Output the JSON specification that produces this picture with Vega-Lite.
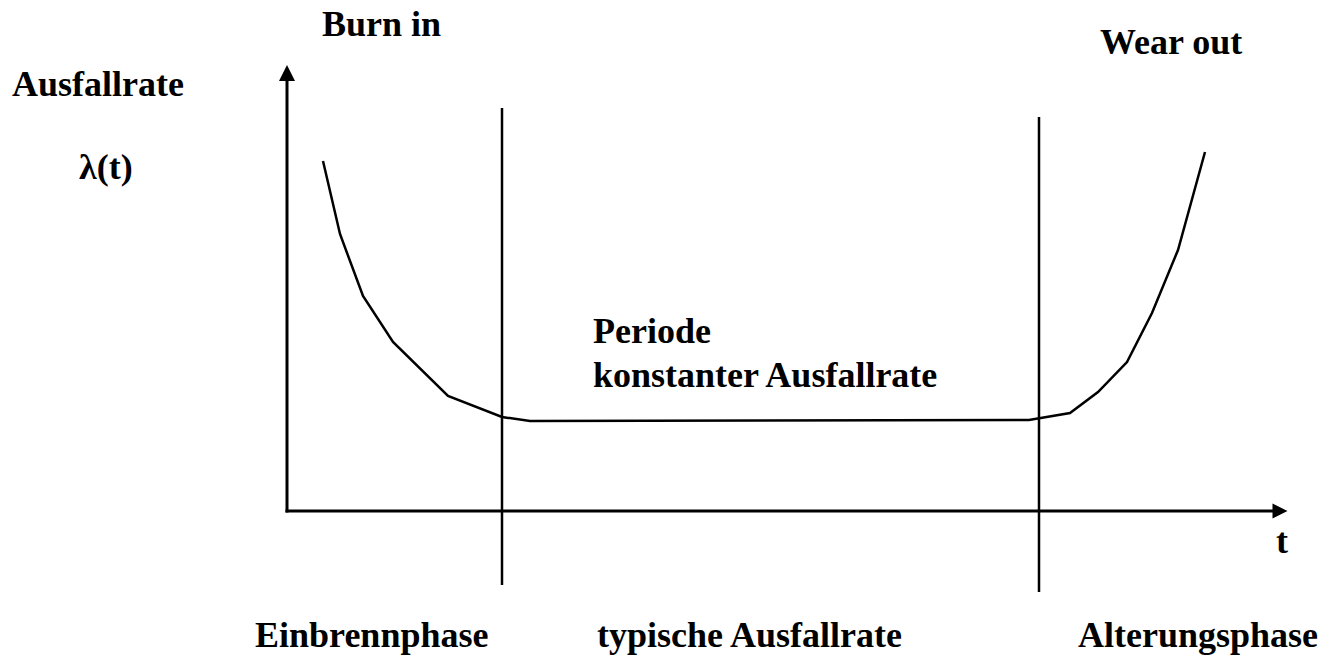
{
  "$schema": "https://vega.github.io/schema/vega-lite/v6.json",
  "width": 1322,
  "height": 657,
  "autosize": {"type": "fit", "contains": "padding"},
  "padding": 0,
  "background": "white",
  "config": {"view": {"stroke": null}},
  "datasets": {
    "curve": [
      {"t": 36, "lambda": 350}, {"t": 53, "lambda": 277}, {"t": 76, "lambda": 215},
      {"t": 106, "lambda": 169}, {"t": 161, "lambda": 115}, {"t": 215, "lambda": 94},
      {"t": 243, "lambda": 90}, {"t": 742, "lambda": 91}, {"t": 783, "lambda": 98},
      {"t": 811, "lambda": 119}, {"t": 840, "lambda": 149}, {"t": 865, "lambda": 198},
      {"t": 891, "lambda": 261}, {"t": 918, "lambda": 359}
    ],
    "axes": [
      {"t": -1.5, "lambda": 0, "t2": 986, "lambda2": 0},
      {"t": 0, "lambda": -1.5, "t2": 0, "lambda2": 432}
    ],
    "phases": [
      {"t": 215, "lambda": 403, "t2": 215, "lambda2": -74},
      {"t": 752, "lambda": 394, "t2": 752, "lambda2": -81}
    ],
    "labels": [
      {"label": "Burn in", "t": 35, "lambda": 475},
      {"label": "Wear out", "t": 813, "lambda": 457},
      {"label": "Ausfallrate", "t": -275, "lambda": 415},
      {"label": "λ(t)", "t": -208, "lambda": 332},
      {"label": "Periode", "t": 306, "lambda": 168},
      {"label": "konstanter Ausfallrate", "t": 306, "lambda": 124},
      {"label": "t", "t": 989, "lambda": -42},
      {"label": "Einbrennphase", "t": -32, "lambda": -136},
      {"label": "typische Ausfallrate", "t": 310, "lambda": -136},
      {"label": "Alterungsphase", "t": 791, "lambda": -136}
    ]
  },
  "layer": [
    {
      "data": {"name": "axes"},
      "mark": {"type": "rule", "color": "black", "strokeWidth": 3},
      "encoding": {
        "x": {"field": "t", "type": "quantitative", "scale": {"domain": [-287, 1035], "nice": false, "zero": false}, "axis": null},
        "y": {"field": "lambda", "type": "quantitative", "scale": {"domain": [-146, 511], "nice": false, "zero": false}, "axis": null},
        "x2": {"field": "t2"},
        "y2": {"field": "lambda2"}
      }
    },
    {
      "data": {"name": "phases"},
      "mark": {"type": "rule", "color": "black", "strokeWidth": 2.5},
      "encoding": {
        "x": {"field": "t", "type": "quantitative"},
        "y": {"field": "lambda", "type": "quantitative"},
        "x2": {"field": "t2"},
        "y2": {"field": "lambda2"}
      }
    },
    {
      "data": {"name": "curve"},
      "mark": {"type": "line", "color": "black", "strokeWidth": 2.5, "strokeJoin": "miter"},
      "encoding": {
        "x": {"field": "t", "type": "quantitative"},
        "y": {"field": "lambda", "type": "quantitative"}
      }
    },
    {
      "data": {"values": [{"t": 0, "lambda": 438}]},
      "mark": {"type": "point", "shape": "M0,-1L1,1L-1,1Z", "filled": true, "color": "black", "opacity": 1, "size": 256},
      "encoding": {
        "x": {"field": "t", "type": "quantitative"},
        "y": {"field": "lambda", "type": "quantitative"}
      }
    },
    {
      "data": {"values": [{"t": 993, "lambda": 0}]},
      "mark": {"type": "point", "shape": "M1,0L-1,-1L-1,1Z", "filled": true, "color": "black", "opacity": 1, "size": 225},
      "encoding": {
        "x": {"field": "t", "type": "quantitative"},
        "y": {"field": "lambda", "type": "quantitative"}
      }
    },
    {
      "data": {"name": "labels"},
      "mark": {"type": "text", "font": "Liberation Serif", "fontWeight": "bold", "fontSize": 36, "align": "left", "baseline": "alphabetic", "color": "black"},
      "encoding": {
        "x": {"field": "t", "type": "quantitative"},
        "y": {"field": "lambda", "type": "quantitative"},
        "text": {"field": "label"}
      }
    }
  ]
}
